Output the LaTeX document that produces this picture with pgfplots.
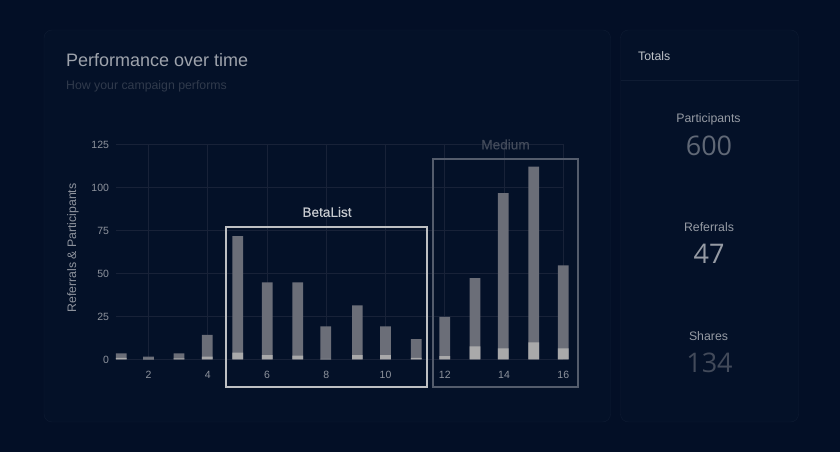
\documentclass[border=0pt]{standalone}
\usepackage{fontspec}
\setmainfont{Liberation Sans}
\newfontfamily\numfont{Open Sans}
\newfontfamily\medfont[FakeBold=0.35]{Liberation Sans}
\usepackage{pgfplots}
\pgfplotsset{compat=1.18}
\definecolor{bg}{HTML}{030F26}
\definecolor{panel}{HTML}{041128}
\definecolor{pborder}{HTML}{0F1C33}
\definecolor{gridc}{HTML}{182238}
\definecolor{barp}{HTML}{6B6E78}
\definecolor{barr}{HTML}{A9A9AA}
\definecolor{tickc}{HTML}{8E939D}
\begin{document}
\begin{tikzpicture}[x=1pt,y=1pt]
\begin{scope}[x=1pt,y=-1pt,shift={(0pt,452pt)}]
\fill[bg] (0,0) rectangle (840,452);
\draw[pborder,fill=panel,rounded corners=8pt] (44,30) rectangle (610.5,422);
\draw[pborder,fill=panel,rounded corners=8pt] (620.5,30) rectangle (798.5,422);
\draw[pborder] (620.5,80.3) -- (798.5,80.3);
\end{scope}
\begin{axis}[
  at={(116pt,92.5pt)},anchor=origin,
  scale only axis,width=447.3pt,height=215.2pt,
  xmin=0.903,xmax=16,ymin=0,ymax=125,
  clip=false,
  axis line style={draw=none},
  tick style={draw=none},
  major tick length=0pt,
  grid=major,
  major grid style={gridc,line width=0.8pt},
  xtick={2,4,...,16},
  ytick={0,25,...,125},
  /pgf/number format/assume math mode=true,
  ticklabel style={font=\fontsize{10.5}{12}\selectfont,text=tickc},
  xticklabel style={yshift=-8pt},
  yticklabel style={xshift=-3.5pt,yshift=-0.5pt},
  ylabel={Referrals \& Participants},
  every axis y label/.style={at={(rel axis cs:-0.096,0.518)},rotate=90,anchor=center,font=\fontsize{12.3}{13}\selectfont,text=tickc},
  ybar,bar width=10.7pt,bar shift=0pt,
]
\addplot[fill=barp,draw=none] coordinates {
(1.082,3.5)(2.0,1.6)(3.03,3.5)(3.985,14.3)(5.01,71.7)(6.01,44.8)(7.035,44.8)(7.98,19.2)
(9.05,31.4)(10.0,19.2)(11.04,11.8)(12.0,24.8)(13.02,47.3)(13.97,96.7)(15.0,112)(16.0,54.7)};
\addplot[fill=barr,draw=none] coordinates {
(1.082,1)(2.0,0.4)(3.03,0.6)(3.985,1.6)(5.01,4)(6.01,2.6)(7.035,2.2)(7.98,0.4)
(9.05,2.6)(10.0,2.6)(11.04,1)(12.0,2)(13.02,7.6)(13.97,6.4)(15.0,10)(16.0,6.4)};
\end{axis}
\begin{scope}[x=1pt,y=-1pt,shift={(0pt,452pt)}]
\draw[color={rgb,255:red,190;green,192;blue,195},line width=2pt] (226,226.7) rectangle (427,387);
\draw[color={rgb,255:red,84;green,92;blue,108},line width=2pt] (433,159.3) rectangle (578,387);
\node[font=\medfont\fontsize{13.6}{14}\selectfont,text={rgb,255:red,200;green,203;blue,208}] at (327,212) {BetaList};
\node[font=\medfont\fontsize{13.6}{14}\selectfont,text={rgb,255:red,66;green,74;blue,90}] at (505.5,144.5) {Medium};
\node[anchor=west,inner sep=0pt,font=\fontsize{18}{20}\selectfont,text={rgb,255:red,158;green,163;blue,172}] at (66,60.5) {Performance over time};
\node[anchor=west,inner sep=0pt,font=\fontsize{12.3}{14}\selectfont,text={rgb,255:red,48;green,58;blue,76}] at (66,86) {How your campaign performs};
\node[anchor=west,inner sep=0pt,font=\fontsize{12.3}{14}\selectfont,text={rgb,255:red,190;green,194;blue,200}] at (638,56) {Totals};
\node[font=\fontsize{12.3}{14}\selectfont,text={rgb,255:red,150;green,155;blue,164}] at (708.5,119.5) {Participants};
\node[font=\numfont\fontsize{27}{30}\selectfont,text={rgb,255:red,96;green,104;blue,118}] at (709,145.5) {600};
\node[font=\fontsize{12.3}{14}\selectfont,text={rgb,255:red,150;green,155;blue,164}] at (709,227) {Referrals};
\node[font=\numfont\fontsize{27}{30}\selectfont,text={rgb,255:red,150;green,155;blue,164}] at (709,253.5) {47};
\node[font=\fontsize{12.3}{14}\selectfont,text={rgb,255:red,150;green,155;blue,164}] at (708.5,336) {Shares};
\node[font=\numfont\fontsize{27}{30}\selectfont,text={rgb,255:red,66;green,74;blue,90}] at (709.5,362.5) {134};
\end{scope}
\end{tikzpicture}
\end{document}
